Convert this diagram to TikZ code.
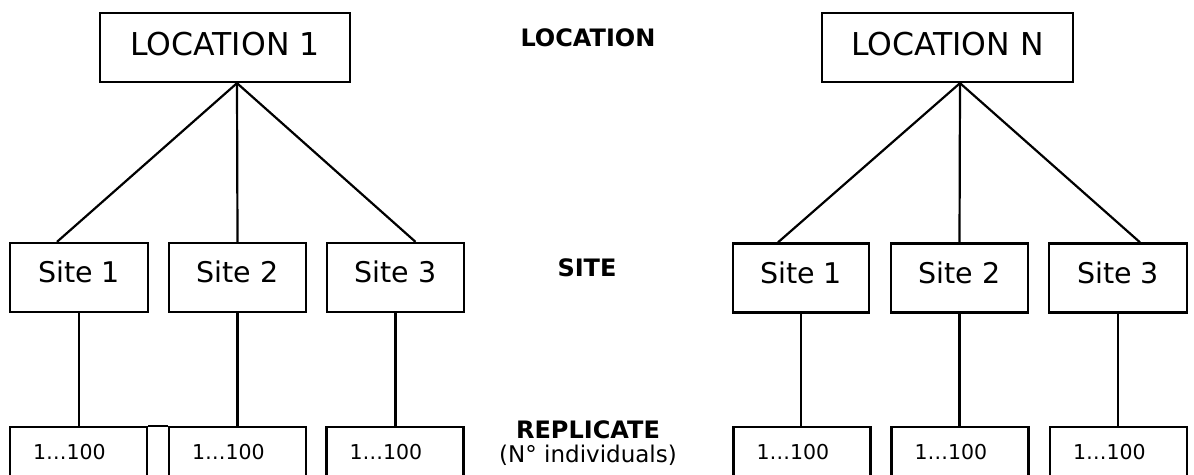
\documentclass[tikz,border=0pt]{standalone}
\usepackage{fontspec}
\setmainfont{DejaVu Sans}
\begin{document}
\begin{tikzpicture}[x=1pt,y=-1pt,
  box/.style={draw=black,line width=2.3pt,rectangle,inner sep=0pt,anchor=center},
  locbox/.style={box,minimum width=250pt,minimum height=69pt,text depth=8pt,font=\fontsize{31.5}{36}\selectfont},
  sitebox/.style={box,minimum width=137pt,minimum height=69pt,text depth=11pt,font=\fontsize{28.5}{32}\selectfont},
  repbox/.style={box,text width=91pt,inner xsep=23pt,minimum height=56pt,text depth=6pt,align=left,font=\fontsize{20.5}{24}\selectfont},
  level/.style={font=\bfseries\fontsize{24}{28}\selectfont,inner sep=0pt},
  conn/.style={line width=2.2pt,draw=black}]
\useasboundingbox (0,0) rectangle (1194,474);
\clip (0,0) rectangle (1194,474);
% left tree
\node[locbox] (LA) at (225,47.5) {LOCATION 1};
\node[sitebox,minimum width=138pt] (SA1) at (79,277.5) {Site 1};
\node[sitebox] (SA2) at (237.5,277.5) {Site 2};
\node[sitebox] (SA3) at (395.5,277.5) {Site 3};
\node[repbox] (RA1) at (78.5,455) {1…100};
\node[repbox] (RA2) at (237.5,455) {1…100};
\node[repbox] (RA3) at (395,455) {1…100};
\coordinate (apexA) at ([xshift=12pt]LA.south);
\draw[conn] (apexA) -- ([xshift=-22pt]SA1.north);
\draw[conn] (apexA) -- (SA2.north);
\draw[conn] (apexA) -- ([xshift=20pt]SA3.north);
\draw[conn] (SA1.south) -- (SA1.south |- RA1.north);
\draw[conn] (SA2.south) -- (SA2.south |- RA2.north);
\draw[conn] (SA3.south) -- (SA3.south |- RA3.north);
\draw[conn] (RA1.north east) -- (RA2.north west);
% right tree
\node[locbox,minimum width=251pt] (LB) at (947.5,47.5) {LOCATION N};
\node[sitebox,minimum width=136pt] (SB1) at (801,278) {Site 1};
\node[sitebox] (SB2) at (959.5,278) {Site 2};
\node[sitebox,minimum width=138pt] (SB3) at (1118,278) {Site 3};
\node[repbox] (RB1) at (802,455) {1…100};
\node[repbox] (RB2) at (960,455) {1…100};
\node[repbox] (RB3) at (1118.5,455) {1…100};
\coordinate (apexB) at ([xshift=12.5pt]LB.south);
\draw[conn] (apexB) -- ([xshift=-23pt]SB1.north);
\draw[conn] (apexB) -- (SB2.north);
\draw[conn] (apexB) -- ([xshift=22pt]SB3.north);
\draw[conn] (SB1.south) -- (SB1.south |- RB1.north);
\draw[conn] (SB2.south) -- (SB2.south |- RB2.north);
\draw[conn] (SB3.south) -- (SB3.south |- RB3.north);
% level labels
\node[level] (tLoc) at (588,38) {LOCATION};
\node[level] (tSite) at (587,268) {SITE};
\node[level] (tRep) at (588,430) {REPLICATE};
\node[inner sep=0pt,font=\fontsize{23}{26}\selectfont] (tInd) at (588,455) {(N° individuals)};
\end{tikzpicture}
\end{document}
